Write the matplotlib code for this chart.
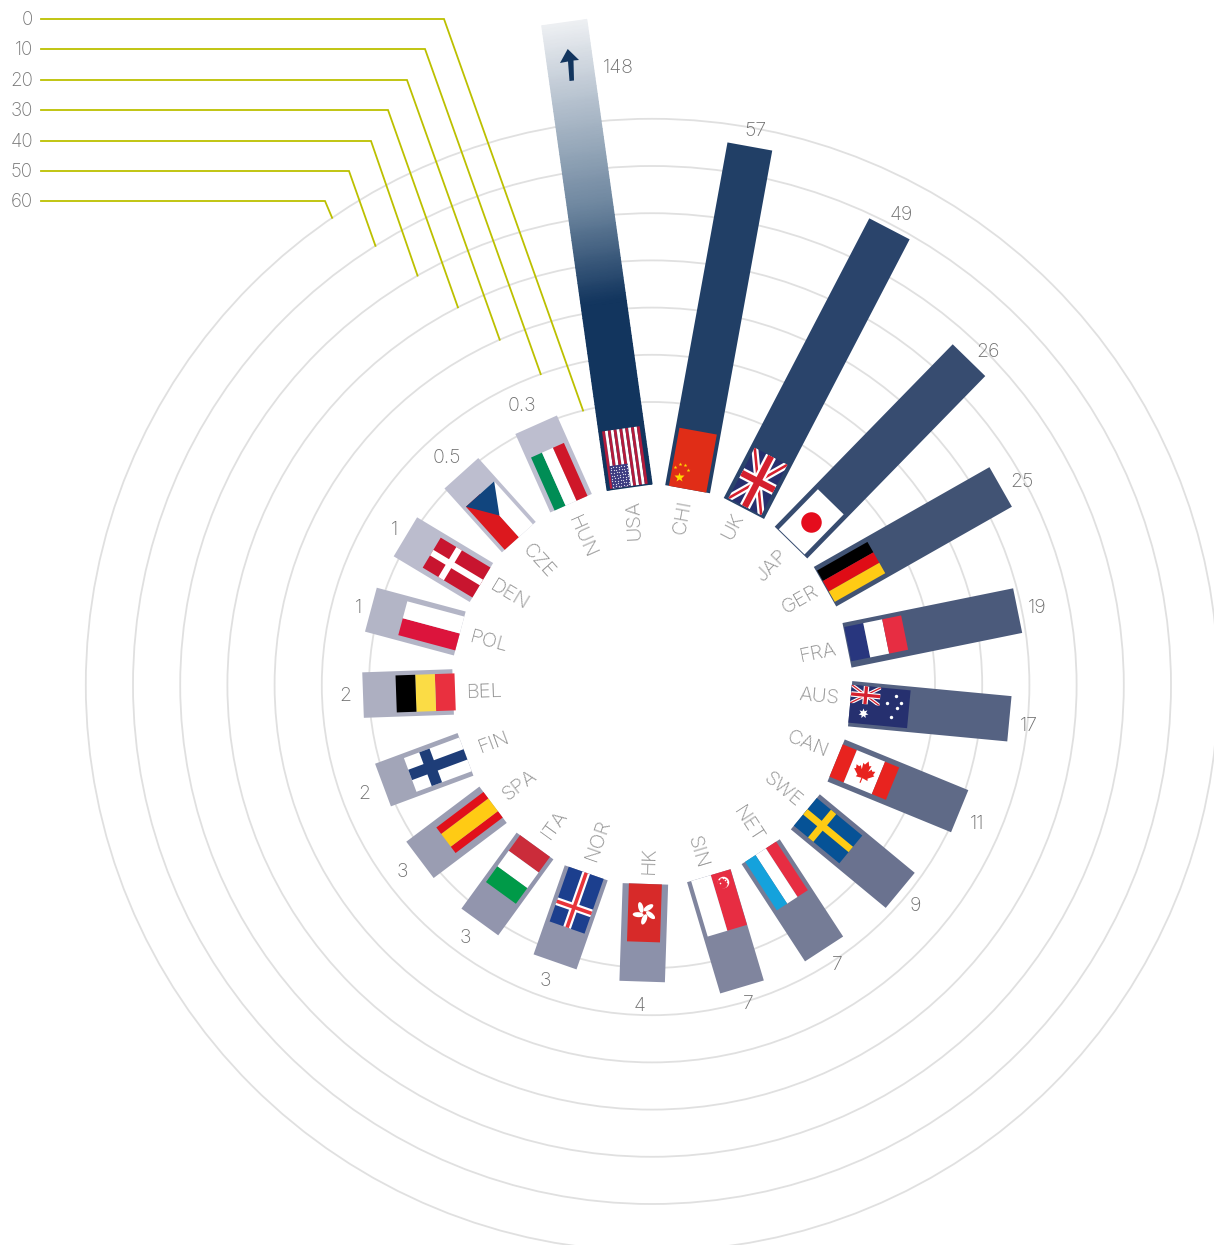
import math
import matplotlib
matplotlib.use('Agg')
import matplotlib.pyplot as plt
import numpy as np
from matplotlib.colors import LinearSegmentedColormap
from matplotlib.patches import Circle, Ellipse, Polygon

plt.rcParams['font.family'] = ['Inter', 'DejaVu Sans']

# data, clockwise from the top
countries = ['USA', 'CHI', 'UK', 'JAP', 'GER', 'FRA', 'AUS', 'CAN', 'SWE', 'NET', 'SIN',
             'HK', 'NOR', 'ITA', 'SPA', 'FIN', 'BEL', 'POL', 'DEN', 'CZE', 'HUN']
value_labels = ['148', '57', '49', '26', '25', '19', '17', '11', '9', '7', '7',
                '4', '3', '3', '3', '2', '2', '1', '1', '0.5', '0.3']
# length as actually drawn, read against the rings (USA is cut off, JAP runs long)
drawn_values = [81.6, 56.0, 49.0, 36.2, 25.0, 19.1, 16.1, 10.5, 8.3, 6.8, 6.8,
                2.9, 2.2, 2.1, 1.6, 0.85, 1.3, 1.7, 1.0, 0.4, 0.4]
ring_ticks = [0, 10, 20, 30, 40, 50, 60]

# layout
CX, CY = 652, 685
R_BASE = 199
R_ZERO = 283
PX_PER_UNIT = 4.72
BAR_WIDTH = 45.5
angles = [-8.0, 10.3, 27.5, 44.3, 60.4, 78.5, 95.4, 112.3, 129.6, 146.9, 163.4,
          181.9, 199.3, 216, 233, 249.6, 268, 285, 301, 318, 336]
bar_shift = [5.3, 0, 0, 0, 0, 0, 0, 0, 0, 0, 0, 0, 0, 0, 0, 0, 0, 0, 0, 0, 0]
bar_colors = ['#12355e', '#213f66', '#2a446b', '#374c70', '#415374', '#4b5a7b', '#556282',
              '#5f6a87', '#6a728f', '#757c96', '#80859e', '#8c91aa', '#8f93ab', '#9295ad',
              '#9a9db2', '#a2a5b8', '#adafc1', '#b3b5c6', '#bbbccd', '#bdbecf', '#bdbecf']
value_x = [618, 755, 901, 988, 1022, 1037, 1029, 977, 915, 837, 748,
           640, 545, 465, 402, 364, 345, 358, 394, 447, 522]
value_y = [67, 130, 214, 351, 481, 607, 725, 823, 905, 964, 1003,
           1005, 980, 937, 871, 793, 695, 607, 529, 457, 405]
label_x = [634, 683, 733, 772, 800, 818, 819, 808, 783, 748, 697,
           649, 598, 555, 520, 494, 485, 489, 509, 538, 582]
label_y = [520, 517, 527, 565, 600, 653, 697, 745, 790, 825, 852,
           860, 840, 825, 785, 743, 692, 642, 595, 561, 537]
leader_y = [19, 49, 80, 110, 141, 171, 201]
leader_knee_x = [444, 425, 407, 388, 371, 349, 325]
leader_angle = [-14.1, -19.7, -23.8, -27.2, -29.8, -32.2, -34.4]

# half width, offset, inner and outer radius of each flag
flag_geom = {
    'USA': (19, -0.5, 200, 258), 'CHI': (19, 0, 199, 258), 'UK': (18.5, 0, 201, 258),
    'JAP': (18, 0, 200, 256), 'GER': (18, 0, 200, 258), 'FRA': (17.5, -1, 200, 258),
    'AUS': (19, 0, 199, 258), 'CAN': (17.5, 0, 199, 260), 'SWE': (18, 0, 199, 258),
    'NET': (18.5, 0, 199, 257), 'SIN': (20.5, -2, 199, 257), 'HK': (16.5, 0, 199, 257),
    'NOR': (18.5, 0, 199, 257), 'ITA': (18.5, 0, 199, 257), 'SPA': (16, 0, 199, 258),
    'FIN': (18, 0, 199, 258), 'BEL': (18.5, 0, 197, 256), 'POL': (17.5, 0, 199, 258),
    'DEN': (17.5, 0, 199, 257), 'CZE': (19, 0, 199, 257), 'HUN': (18, 0, 199, 257),
}

fig = plt.figure(figsize=(12.14, 12.45), dpi=100, facecolor='w')
ax = fig.add_axes([0, 0, 1, 1])
ax.set_xlim(0, 1214)
ax.set_ylim(1245, 0)
ax.axis('off')


def radius(value):
    return R_ZERO + value * PX_PER_UNIT


def pt(i, t, r):
    th = math.radians(angles[i])
    t = t + bar_shift[i]
    return CX + t * math.cos(th) + r * math.sin(th), CY + t * math.sin(th) - r * math.cos(th)


def uv(code, u, v):
    hw, off, r0, r1 = flag_geom[code]
    return pt(countries.index(code), off - hw + 2 * hw * u, r0 + (r1 - r0) * v)


def fpoly(code, corners, color, z=4):
    p = Polygon([uv(code, u, v) for u, v in corners], closed=True, fc=color, ec='none', lw=0, zorder=z)
    ax.add_patch(p)
    return p


def frect(code, u0, u1, v0, v1, color, z=4):
    return fpoly(code, [(u0, v0), (u1, v0), (u1, v1), (u0, v1)], color, z)


def fline(code, a, b, width, color, z, clip=None):
    xa, ya = uv(code, *a)
    xb, yb = uv(code, *b)
    ln, = ax.plot([xa, xb], [ya, yb], color=color, lw=width * 0.72, solid_capstyle='butt', zorder=z)
    if clip is not None:
        ln.set_clip_path(clip)


def fdot(code, u, v, size, color, marker='o', z=6):
    x, y = uv(code, u, v)
    ax.plot([x], [y], marker=marker, ms=size * 0.72, mfc=color, mec='none', ls='none', zorder=z)


def stripes_u(code, cols, weights=None):
    weights = weights or [1] * len(cols)
    edges = np.cumsum([0] + weights) / sum(weights)
    for k, c in enumerate(cols):
        frect(code, edges[k], edges[k + 1], 0, 1, c)


def stripes_v(code, cols, weights=None):
    weights = weights or [1] * len(cols)
    edges = np.cumsum([0] + weights) / sum(weights)
    for k, c in enumerate(cols):
        frect(code, 0, 1, edges[k], edges[k + 1], c)


def cross(code, u, v, width, col):
    # long arm runs along the radius
    hw, off, r0, r1 = flag_geom[code]
    du = width / (4 * hw)
    dv = width / (2 * (r1 - r0))
    frect(code, u - du, u + du, 0, 1, col, 5)
    frect(code, 0, 1, v - dv, v + dv, col, 5)


def union_jack(code, u0, u1, v0, v1, scale, z=4):
    def s(u, v):
        return u0 + u * (u1 - u0), v0 + v * (v1 - v0)
    box = frect(code, u0, u1, v0, v1, '#26306f', z)
    for a, b in [((0, 0), (1, 1)), ((1, 0), (0, 1))]:
        fline(code, s(*a), s(*b), 7 * scale, 'white', z + 1, box)
        fline(code, s(*a), s(*b), 2.6 * scale, '#d5202e', z + 2, box)
    for a, b in [((0.5, 0), (0.5, 1)), ((0, 0.5), (1, 0.5))]:
        fline(code, s(*a), s(*b), 11 * scale, 'white', z + 3, box)
        fline(code, s(*a), s(*b), 6.5 * scale, '#d5202e', z + 4, box)


# rings
for tick in ring_ticks:
    ax.add_patch(Circle((CX, CY), radius(tick), fc='none', ec='#e0e0e0', lw=1.3, zorder=1))

# leader lines and their tick labels
for k, tick in enumerate(ring_ticks):
    th = math.radians(leader_angle[k])
    end_x = CX + radius(tick) * math.sin(th)
    end_y = CY - radius(tick) * math.cos(th)
    ax.plot([41, leader_knee_x[k], end_x], [leader_y[k], leader_y[k], end_y],
            color='#bcc000', lw=1.3, solid_joinstyle='miter', zorder=2)
    ax.text(33, leader_y[k] + 1, str(tick), ha='right', va='center', fontsize=13.5,
            fontweight='light', color='#757575')

# bars
for i, code in enumerate(countries):
    r_end = radius(drawn_values[i])
    if code == 'USA':
        # this one fades out at the top
        cmap = LinearSegmentedColormap.from_list(
            'fade', [(0, '#12355e'), (0.40, '#12355e'), (0.60, '#6c859e'), (0.83, '#b5c1ce'), (1, '#eef0f3')])
        tt, rr = np.meshgrid([-BAR_WIDTH / 2, BAR_WIDTH / 2], np.linspace(R_BASE, r_end, 120))
        xx, yy = pt(i, tt, rr)
        ax.pcolormesh(xx, yy, (rr - R_BASE) / (r_end - R_BASE), cmap=cmap, shading='gouraud', zorder=3)
    else:
        corners = [pt(i, -BAR_WIDTH / 2, R_BASE), pt(i, BAR_WIDTH / 2, R_BASE),
                   pt(i, BAR_WIDTH / 2, r_end), pt(i, -BAR_WIDTH / 2, r_end)]
        ax.add_patch(Polygon(corners, closed=True, fc=bar_colors[i], ec='none', zorder=3))
    ax.text(value_x[i], value_y[i] + 1, value_labels[i], ha='center', va='center', fontsize=14,
            fontweight='light', color='#707070')
    rot = 90 - angles[i] if angles[i] < 170 else 270 - angles[i]
    if code == 'USA':
        rot = 93
    ax.text(label_x[i], label_y[i], code, ha='center', va='center', rotation=rot, rotation_mode='anchor',
            fontsize=14.5, fontweight='light', color='#929292')

# arrow on the USA bar
ax.add_patch(Polygon([(567.7, 49), (579, 60), (573.5, 60.5), (574, 80.5), (569.5, 81), (568, 61.5), (560, 63)],
                     closed=True, fc='#12355e', ec='none', zorder=6))

# flags
# USA
stripes_u('USA', ['#b31b3c' if k % 2 == 0 else 'white' for k in range(13)])
frect('USA', 0.06, 0.55, 0, 0.39, '#3b3a80', 5)
for a in np.linspace(0.09, 0.52, 7):
    for b in np.linspace(0.03, 0.36, 8):
        fdot('USA', a, b, 1.3, '#d9d9e8')

# CHI
frect('CHI', 0, 1, 0, 1, '#e02d17')
fdot('CHI', 0.21, 0.17, 11, '#ffd800', '*')
for a, b in [(0.07, 0.33), (0.18, 0.39), (0.32, 0.39), (0.41, 0.32)]:
    fdot('CHI', a, b, 4, '#ffd800', '*')

union_jack('UK', 0, 1, 0, 1, 1.0)

# JAP
frect('JAP', 0, 1, 0, 1, 'white')
fdot('JAP', 0.5, 0.5, 20.5, '#e50c1d')

stripes_u('GER', ['#000000', '#df0c16', '#ffcb14'])
stripes_v('FRA', ['#28367e', 'white', '#e72d42'])

# AUS
frect('AUS', 0, 1, 0, 1, '#26306f')
union_jack('AUS', 0, 0.48, 0, 0.5, 0.5, 5)
fdot('AUS', 0.7, 0.23, 10, 'white', (7, 1, 0))
for a, b in [(0.18, 0.76), (0.4, 0.62), (0.35, 0.86), (0.49, 0.79), (0.75, 0.71)]:
    fdot('AUS', a, b, 3.4, 'white')

# CAN
stripes_v('CAN', ['#e8231f', 'white', '#e8231f'], [1, 2, 1])
half_leaf = [(0.05, -1.0), (0.05, -0.55), (0.55, -0.62), (0.48, -0.42), (0.95, -0.02), (0.80, 0.05),
             (0.88, 0.38), (0.60, 0.30), (0.52, 0.45), (0.30, 0.15), (0.38, 0.72), (0.20, 0.62), (0, 1.0)]
leaf = half_leaf + [(-a, b) for a, b in half_leaf[::-1][1:]]
hw_can, off_can, r0_can, r1_can = flag_geom['CAN']
leaf_uv = [(0.5 - 11.5 * b / (2 * hw_can), 0.5 + 11.5 * a / (r1_can - r0_can)) for a, b in leaf]
fpoly('CAN', leaf_uv, '#e8231f', 5)

# SWE
frect('SWE', 0, 1, 0, 1, '#065296')
cross('SWE', 0.5, 0.37, 7, '#ffcb14')

stripes_u('NET', ['#e72d42', 'white', '#14a2dc'])

# SIN
stripes_u('SIN', ['#e72d42', 'white'])
fdot('SIN', 0.26, 0.17, 11.5, 'white')
fdot('SIN', 0.30, 0.19, 10.5, '#e72d42', z=7)
for a, b in [(0.16, 0.20), (0.24, 0.10), (0.33, 0.10), (0.21, 0.15), (0.33, 0.17)]:
    fdot('SIN', a, b, 1.6, 'white', z=8)

# HK
frect('HK', 0, 1, 0, 1, '#d72a29')
hk_x, hk_y = uv('HK', 0.5, 0.5)
for a in range(5):
    th = math.radians(a * 72 + 20)
    ax.add_patch(Ellipse((hk_x + 6.5 * math.cos(th), hk_y + 6.5 * math.sin(th)), 11, 5,
                         angle=a * 72 + 40, fc='white', ec='none', zorder=5))

# NOR
frect('NOR', 0, 1, 0, 1, '#1c3f8e')
cross('NOR', 0.5, 0.63, 8, 'white')
cross('NOR', 0.5, 0.63, 3.6, '#e8343a')

stripes_v('ITA', ['#cb2c3a', 'white', '#009a48'])
stripes_u('SPA', ['#e1101a', '#ffcb14', '#e1101a'], [1, 2, 1])

# FIN
frect('FIN', 0, 1, 0, 1, 'white')
cross('FIN', 0.5, 0.63, 11, '#1e3d78')

stripes_v('BEL', ['#e9303f', '#fbdc45', '#000000'])
stripes_u('POL', ['#dc143c', 'white'])

# DEN
frect('DEN', 0, 1, 0, 1, '#c8152f')
cross('DEN', 0.5, 0.63, 6.5, 'white')

# CZE
stripes_u('CZE', ['#dc181e', 'white'])
fpoly('CZE', [(0, 1), (1, 1), (0.5, 0.5)], '#11457e', 5)

stripes_u('HUN', ['#008d55', 'white', '#cf1729'])

fig.savefig('out.png', dpi=100, facecolor='w')
